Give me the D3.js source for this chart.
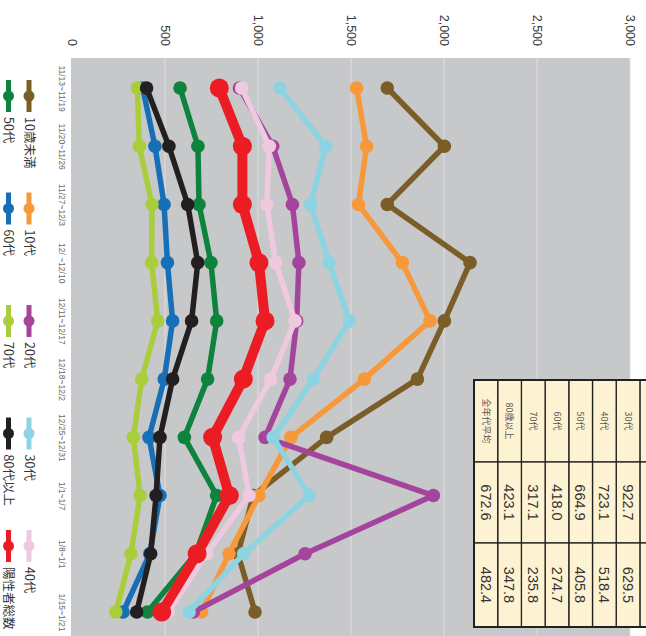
<!DOCTYPE html>
<html><head><meta charset="utf-8">
<script src="https://cdn.jsdelivr.net/npm/d3@7"></script>
<style>body{margin:0;background:#fff;overflow:hidden}</style>
</head><body><svg id="c" width="646" height="636"></svg>
<script>
const categories = ["11/13~11/19","11/20~11/26","11/27~12/3","12/ ~12/10","12/11~12/17","12/18~12/2","12/25~12/31","1/1~1/7","1/8~1/1","1/15~1/21"];
const seriesNames = ["10歳未満","10代","20代","30代","40代","50代","60代","70代","80代以上","陽性者総数"];
const seriesColors = ["#7b5d28","#f7983a","#a5449c","#8cd4e1","#efc9de","#0d833e","#176fb8","#a9cd3b","#231f20","#ec1c24"];
const v10u = [1695,2002,1695,2140,2002,1857,1369,975,892,984];
const v10  = [1530,1584,1540,1776,1925,1572,1177,1005,844,697];
const v20  = [900,1079,1185,1220,1208,1172,1038,1943,1253,652];
const v30  = [1118,1364,1283,1382,1491,1297,1082,1276,922.7,629.5];
const v40  = [912,1061,1047,1095,1199,1068,896,952,723.1,518.4];
const v50  = [581,677,683,747,778,729,604,778,664.9,405.8];
const v60  = [380,446,495,513,541,496,414,473,418.0,274.7];
const v70  = [351,362,430,428,461,375,330,366,317.1,235.8];
const v80  = [401,521,622,676,643,541,473,452,423.1,347.8];
const vAll = [792,916,916,1005,1038,921,756,846,672.6,482.4];
const seriesValues = [v10u,v10,v20,v30,v40,v50,v60,v70,v80,vAll];
const valueTicks = [0,500,1000,1500,2000,2500,3000];
const tableLabels = ["","30代","40代","50代","60代","70代","80歳以上","全年代平均"];
const tablePrev = [null,922.7,723.1,664.9,418.0,317.1,423.1,672.6];
const tableLast = [null,629.5,518.4,405.8,274.7,235.8,347.8,482.4];

const svg = d3.select("#c");
// chart drawn in its own frame (636 x 646) and turned a quarter clockwise
const g = svg.append("g").attr("transform","translate(646,0) rotate(90)");

const x = d3.scalePoint().domain(categories).range([88,612]);
const y = d3.scaleLinear().domain([0,3000]).range([574,16]);

g.append("rect").attr("x",58).attr("y",16).attr("width",578).attr("height",559).attr("fill","#c7c8ca");
g.selectAll(".grid").data(valueTicks.filter(d=>d>0)).enter().append("line")
  .attr("x1",58).attr("x2",636).attr("y1",d=>y(d)).attr("y2",d=>y(d))
  .attr("stroke","#dedfe0").attr("stroke-width",1);

const yAxis = g.append("g").attr("transform","translate(46,0)")
  .call(d3.axisLeft(y).tickValues(valueTicks).tickSize(0).tickPadding(0).tickFormat(d3.format(",")));
yAxis.select(".domain").remove();
yAxis.selectAll("text").attr("font-family","'Liberation Sans',Arial,sans-serif").attr("font-size",12.5).attr("fill","#333").attr("x",0);

const xAxis = g.append("g").attr("transform","translate(0,581)")
  .call(d3.axisBottom(x).tickSize(0).tickPadding(0));
xAxis.select(".domain").remove();
xAxis.selectAll("text").attr("font-family","'Liberation Sans',Arial,sans-serif").attr("font-size",8.5).attr("fill","#6a6a6a").attr("dy","0.71em");

const line = d3.line().x((d,i)=>x(categories[i])).y(d=>y(d));
seriesNames.forEach((name,si)=>{
  const isTotal = si===seriesNames.length-1;
  const sg = g.append("g");
  sg.append("path").datum(seriesValues[si]).attr("d",line).attr("fill","none")
    .attr("stroke",seriesColors[si]).attr("stroke-width",isTotal?10:5.5).attr("stroke-linejoin","round");
  sg.selectAll("circle").data(seriesValues[si]).enter().append("circle")
    .attr("cx",(d,i)=>x(categories[i])).attr("cy",d=>y(d)).attr("r",isTotal?9.5:6.8)
    .attr("fill",seriesColors[si]);
});

// legend
const leg = g.append("g");
seriesNames.forEach((name,i)=>{
  const row = Math.floor(i/5), col = i%5;
  const cx = 96 + col*112.5, cy = 617 + row*20.5;
  leg.append("line").attr("x1",cx-16).attr("x2",cx+16).attr("y1",cy).attr("y2",cy)
    .attr("stroke",seriesColors[i]).attr("stroke-width",5);
  leg.append("circle").attr("cx",cx).attr("cy",cy).attr("r",5.5).attr("fill",seriesColors[i]);
  leg.append("text").attr("x",cx+21).attr("y",cy).attr("dy","0.35em")
    .attr("font-family","'Noto Sans CJK JP','Liberation Sans',sans-serif").attr("font-size",12.5).attr("fill","#333").text(name);
});

// table
const tg = g.append("g");
const colX = [380,462,543,627];
const rowH = 23.7, lastBottom = 172;
const rowTop = i => lastBottom - (tableLabels.length - i)*rowH;
tableLabels.forEach((lab,i)=>{
  const t = rowTop(i);
  for (let c=0;c<3;c++){
    tg.append("rect").attr("x",colX[c]).attr("y",t).attr("width",colX[c+1]-colX[c]).attr("height",rowH)
      .attr("fill","#fdf2d1").attr("stroke","#222").attr("stroke-width",1.3);
  }
  tg.append("text").attr("x",(colX[0]+colX[1])/2).attr("y",t+rowH/2).attr("dy","0.36em").attr("text-anchor","middle")
    .attr("font-family","'Noto Sans CJK JP',sans-serif").attr("font-size",9).attr("fill","#555").text(lab);
  if (tablePrev[i]!==null){
    tg.append("text").attr("x",(colX[1]+colX[2])/2).attr("y",t+rowH/2).attr("dy","0.36em").attr("text-anchor","middle")
      .attr("font-family","'Liberation Sans',Arial,sans-serif").attr("font-size",14.5).attr("fill","#333").text(d3.format(".1f")(tablePrev[i]));
    tg.append("text").attr("x",(colX[2]+colX[3])/2).attr("y",t+rowH/2).attr("dy","0.36em").attr("text-anchor","middle")
      .attr("font-family","'Liberation Sans',Arial,sans-serif").attr("font-size",14.5).attr("fill","#333").text(d3.format(".1f")(tableLast[i]));
  }
});
tg.append("rect").attr("x",colX[0]).attr("y",rowTop(0)).attr("width",colX[3]-colX[0]).attr("height",lastBottom-rowTop(0))
  .attr("fill","none").attr("stroke","#222").attr("stroke-width",2);
</script></body></html>
